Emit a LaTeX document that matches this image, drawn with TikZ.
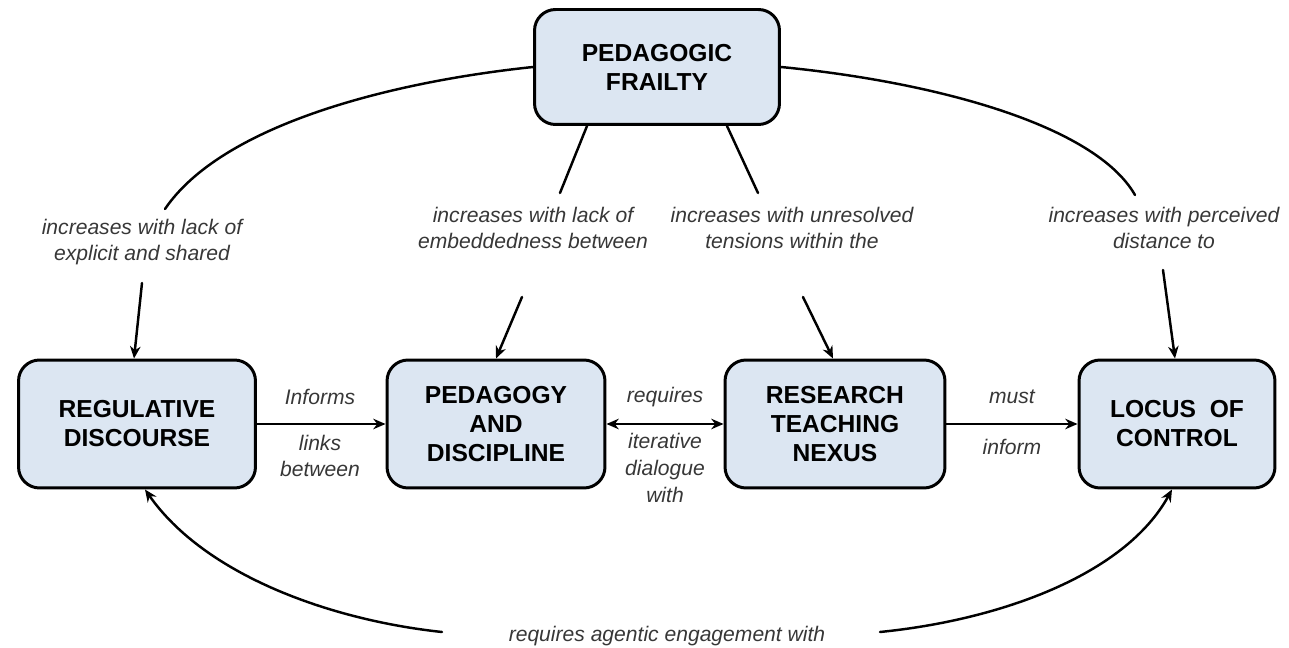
\documentclass[tikz,border=0pt]{standalone}
\usepackage{fontspec}
\setmainfont{Liberation Sans}
\usetikzlibrary{arrows.meta}
\definecolor{boxfill}{RGB}{220,230,242}
\definecolor{lbltext}{RGB}{55,55,55}
\begin{document}
\begin{tikzpicture}[x=0.02cm,y=-0.02cm,
  box/.style={draw,line width=1.7pt,rounded corners=0.42cm,fill=boxfill,align=center,
    font=\fontsize{14}{16.5}\selectfont\bfseries,minimum height=2.56cm},
  lbl/.style={align=center,inner sep=0pt,text=lbltext,font=\fontsize{12}{15.2}\selectfont\itshape},
  link/.style={line width=1.4pt,line cap=round},
  tip/.style={-{Stealth[length=7pt,width=6pt]}},
  tips/.style={{Stealth[length=7pt,width=6pt]}-{Stealth[length=7pt,width=6pt]}}]
\useasboundingbox (0,0) rectangle (1289,648);

\node[box,minimum width=4.9cm,minimum height=2.3cm] (pf) at (657,67) {PEDAGOGIC\\FRAILTY};
\node[box,minimum width=4.74cm] (rd) at (137,424) {REGULATIVE\\DISCOURSE};
\node[box,minimum width=4.36cm] (pd) at (496,424) {PEDAGOGY\\AND\\DISCIPLINE};
\node[box,minimum width=4.4cm] (rtn) at (835,424) {RESEARCH\\TEACHING\\NEXUS};
\node[box,minimum width=3.92cm] (loc) at (1177,424) {LOCUS\ \ OF\\CONTROL};

\node[lbl] (l1) at (142,242) {increases with lack of\\explicit and shared};
\node[lbl] (l2) at (533,228) {increases with lack of\\embeddedness between};
\node[lbl] (l3) at (792,228) {increases with unresolved\\tensions within the};
\node[lbl] (l4) at (1164,228) {increases with perceived\\distance to};
\node[lbl] (l5) at (667,636) {requires agentic engagement with};

\node[lbl] (m1) at (320,397) {Informs};
\node[lbl] (m2) at (320,456) {links\\between};
\node[lbl] (m3) at (665,397) {requires};
\node[lbl] (m4) at (665,468) {iterative\\dialogue\\with};
\node[lbl] (m5) at (1012,397) {must};
\node[lbl] (m6) at (1012,447) {inform};

\draw[link,tip] (rd) -- (pd);
\draw[link,tips] (pd) -- (rtn);
\draw[link,tip] (rtn) -- (loc);

\draw[link] (pf.west) .. controls (390,82) and (222,125) .. ([shift={(23,-33)}]l1.center);
\draw[link,tip] ([shift={(0,41)}]l1.center) -- ([shift={(-3,0)}]rd.north);
\draw[link] ([shift={(-70,0)}]pf.south) -- ([shift={(27,-35)}]l2.center);
\draw[link,tip] ([shift={(-11,69)}]l2.center) -- (pd.north);
\draw[link] ([shift={(70,0)}]pf.south) -- ([shift={(-34,-35)}]l3.center);
\draw[link,tip] ([shift={(11,69)}]l3.center) -- ([shift={(-2,0)}]rtn.north);
\draw[link] (pf.east) .. controls (935,82) and (1095,125) .. ([shift={(-29,-33)}]l4.center);
\draw[link,tip] ([shift={(-1,42)}]l4.center) -- ([shift={(-2,0)}]loc.north);

\draw[link,tip] ([shift={(-225,-4)}]l5.center) .. controls (330,620) and (205,575) .. ([shift={(8,0)}]rd.south);
\draw[link,tip] ([shift={(213,-4)}]l5.center) .. controls (1000,620) and (1125,575) .. ([shift={(-5,0)}]loc.south);
\end{tikzpicture}
\end{document}
